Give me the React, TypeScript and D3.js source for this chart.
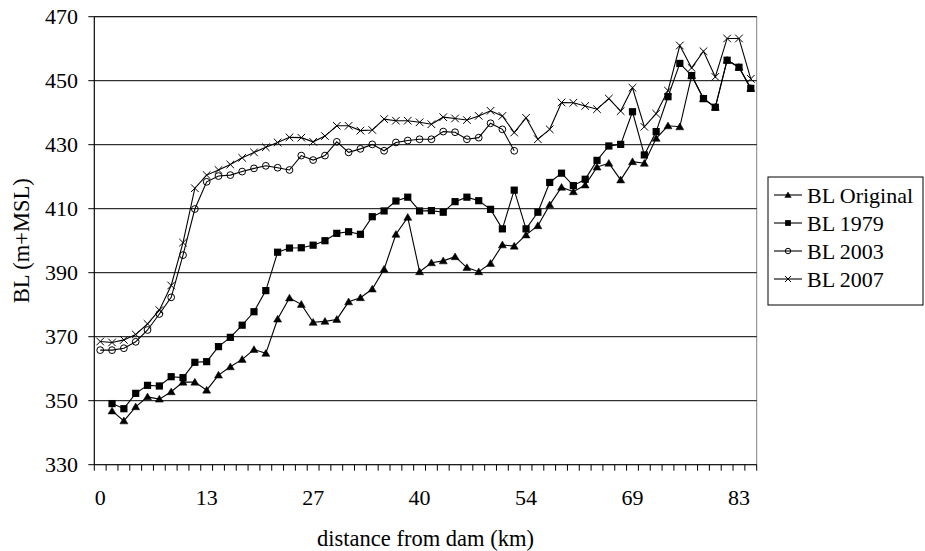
import React from "react";
import * as d3 from "d3";

// Category axis: 56 categories, a label every 9th category
const tickLabels = ["0", "13", "27", "40", "54", "69", "83"];
const labelEvery = 9;
const yTicks = [330, 350, 370, 390, 410, 430, 450, 470];

const blOriginal: (number | null)[] = [
  null, 346.8, 343.7, 348.1, 351.2, 350.5, 352.8, 355.8, 355.8, 353.3,
  358.0, 360.6, 362.9, 366.0, 364.8, 375.5, 382.1, 380.1, 374.5, 374.8,
  375.4, 380.9, 382.2, 384.9, 391.1, 402.0, 407.3, 390.3, 393.1, 393.7,
  395.0, 391.6, 390.3, 392.9, 398.7, 398.3, 401.8, 404.7, 411.2, 416.7,
  415.3, 417.4, 423.0, 424.2, 419.0, 424.7, 424.2, 432.0, 435.9, 435.6,
  451.6, 444.4, 441.7, 456.4, 454.2, 447.6,
];

const bl1979: (number | null)[] = [
  null, 349.1, 347.5, 352.3, 354.8, 354.6, 357.5, 357.2, 362.0, 362.2,
  366.9, 369.8, 373.6, 377.8, 384.4, 396.4, 397.7, 397.8, 398.6, 400.0,
  402.3, 402.8, 402.0, 407.5, 409.3, 412.4, 413.6, 409.3, 409.4, 408.9,
  412.2, 413.6, 412.5, 409.8, 403.7, 415.8, 403.7, 408.9, 418.2, 421.1,
  417.2, 419.2, 425.1, 429.6, 430.1, 440.3, 426.8, 434.1, 445.0, 455.4,
  451.6, 444.4, 441.7, 456.4, 454.2, 447.6,
];

const bl2003: (number | null)[] = [
  365.8, 365.8, 366.4, 368.4, 372.1, 377.1, 382.3, 395.5, 409.9, 418.4,
  420.2, 420.5, 421.6, 422.6, 423.4, 422.8, 422.1, 426.6, 425.2, 426.6,
  430.9, 427.6, 428.7, 430.1, 428.1, 430.7, 431.3, 431.7, 431.7, 434.1,
  433.9, 431.7, 432.2, 436.7, 434.8, 428.1, null, null, null, null,
  null, null, null, null, null, null, null, null, null, null,
  null, null, null, null, null, null,
];

const bl2007: (number | null)[] = [
  368.5, 368.2, 369.0, 370.7, 374.0, 378.3, 386.0, 399.4, 416.4, 420.5,
  422.1, 423.8, 425.9, 427.6, 429.2, 430.7, 432.3, 432.2, 430.9, 432.7,
  435.9, 435.9, 434.4, 434.6, 438.0, 437.5, 437.5, 437.0, 436.4, 438.6,
  438.2, 437.7, 439.0, 440.6, 439.0, 433.8, 438.4, 431.7, 434.8, 443.2,
  443.1, 442.1, 441.1, 444.4, 440.5, 447.8, 435.6, 439.7, 446.9, 461.0,
  454.0, 459.2, 451.2, 463.2, 463.2, 450.6,
];

const seriesNames = ["BL Original", "BL 1979", "BL 2003", "BL 2007"];
const seriesMarkers = ["triangle", "square", "circle", "x"];
const seriesValues = [blOriginal, bl1979, bl2003, bl2007];

const W = 925;
const H = 551;
const plot = { left: 94.3, right: 756.7, top: 16.7, bottom: 464.7 };
const FONT = "'Liberation Serif', 'Times New Roman', serif";
const FS = 22;
const FT = 22.5;

function Marker({ type, x, y, s = 1 }: { type: string; x: number; y: number; s?: number }) {
  if (type === "triangle") {
    const p = `M${x},${y - 3.8 * s}L${x + 4 * s},${y + 3 * s}L${x - 4 * s},${y + 3 * s}Z`;
    return <path d={p} fill="#000" stroke="#000" strokeWidth={0.5} />;
  }
  if (type === "square") {
    return <rect x={x - 3.6 * s} y={y - 3.6 * s} width={7.2 * s} height={7.2 * s} fill="#000" />;
  }
  if (type === "circle") {
    return <circle cx={x} cy={y} r={3.4 * s} fill="none" stroke="#000" strokeWidth={1} />;
  }
  const r = 3.8 * s;
  return (
    <path
      d={`M${x - r},${y - r}L${x + r},${y + r}M${x - r},${y + r}L${x + r},${y - r}`}
      stroke="#000"
      strokeWidth={1}
      fill="none"
    />
  );
}

export default function App() {
  const categories = d3.range(blOriginal.length);
  const x = d3
    .scaleBand<number>()
    .domain(categories)
    .range([plot.left, plot.right])
    .paddingInner(0)
    .paddingOuter(0);
  const y = d3.scaleLinear().domain([330, 470]).range([plot.bottom, plot.top]);
  const cx = (i: number) => (x(i) as number) + x.bandwidth() / 2;

  const line = d3
    .line<number | null>()
    .defined((d) => d != null)
    .x((_, i) => cx(i))
    .y((d) => y(d as number));

  const tickBounds = d3.range(categories.length + 1).map((i) => plot.left + i * x.bandwidth());

  const legend = { x: 768, y: 177, w: 155, h: 128, row0: 195, step: 28 };

  return (
    <svg
      width={W}
      height={H}
      style={{ position: "absolute", left: 0, top: 0, background: "#fff" }}
      fontFamily={FONT}
    >
      <rect x={0} y={0} width={W} height={H} fill="#fff" />
      {/* plot border (gray) */}
      <rect
        x={plot.left}
        y={plot.top}
        width={plot.right - plot.left}
        height={plot.bottom - plot.top}
        fill="none"
        stroke="#808080"
        strokeWidth={1}
      />
      {/* gridlines */}
      {yTicks.slice(1).map((t) => (
        <line key={t} x1={plot.left} x2={plot.right} y1={y(t)} y2={y(t)} stroke="#000" strokeWidth={1} />
      ))}
      {/* y axis */}
      <line x1={plot.left} x2={plot.left} y1={plot.top} y2={plot.bottom} stroke="#000" strokeWidth={1} />
      {yTicks.map((t) => (
        <g key={t}>
          <line x1={plot.left - 6} x2={plot.left} y1={y(t)} y2={y(t)} stroke="#000" strokeWidth={1} />
          <text x={78} y={y(t)} textAnchor="end" dominantBaseline="central" fontSize={FS} fill="#000">
            {t}
          </text>
        </g>
      ))}
      {/* x axis */}
      <line x1={plot.left} x2={plot.right} y1={plot.bottom} y2={plot.bottom} stroke="#000" strokeWidth={1} />
      {tickBounds.map((tx, i) => (
        <line key={i} x1={tx} x2={tx} y1={plot.bottom} y2={plot.bottom + 6} stroke="#000" strokeWidth={1} />
      ))}
      {tickLabels.map((lab, k) => (
        <text key={lab} x={cx(k * labelEvery)} y={505} textAnchor="middle" fontSize={FS} fill="#000">
          {lab}
        </text>
      ))}
      {/* axis titles */}
      <text
        transform={`translate(21,${(plot.top + plot.bottom) / 2}) rotate(-90)`}
        textAnchor="middle"
        dominantBaseline="central"
        fontSize={FT}
        fill="#000"
      >
        BL (m+MSL)
      </text>
      <text x={(plot.left + plot.right) / 2} y={546} textAnchor="middle" fontSize={FT} fill="#000">
        distance from dam (km)
      </text>
      {/* series */}
      {seriesValues.map((vals, si) => (
        <g key={si}>
          <path d={line(vals) || ""} fill="none" stroke="#000" strokeWidth={1.1} />
          {vals.map((v, i) =>
            v == null ? null : <Marker key={i} type={seriesMarkers[si]} x={cx(i)} y={y(v)} />
          )}
        </g>
      ))}
      {/* legend */}
      <rect x={legend.x} y={legend.y} width={legend.w} height={legend.h} fill="#fff" stroke="#000" strokeWidth={1} />
      {seriesNames.map((name, si) => {
        const ry = legend.row0 + si * legend.step;
        return (
          <g key={name}>
            <line x1={774} x2={802} y1={ry} y2={ry} stroke="#000" strokeWidth={1.1} />
            <Marker type={seriesMarkers[si]} x={788} y={ry} s={0.8} />
            <text x={807} y={ry} dominantBaseline="central" fontSize={FS} fill="#000">
              {name}
            </text>
          </g>
        );
      })}
    </svg>
  );
}
